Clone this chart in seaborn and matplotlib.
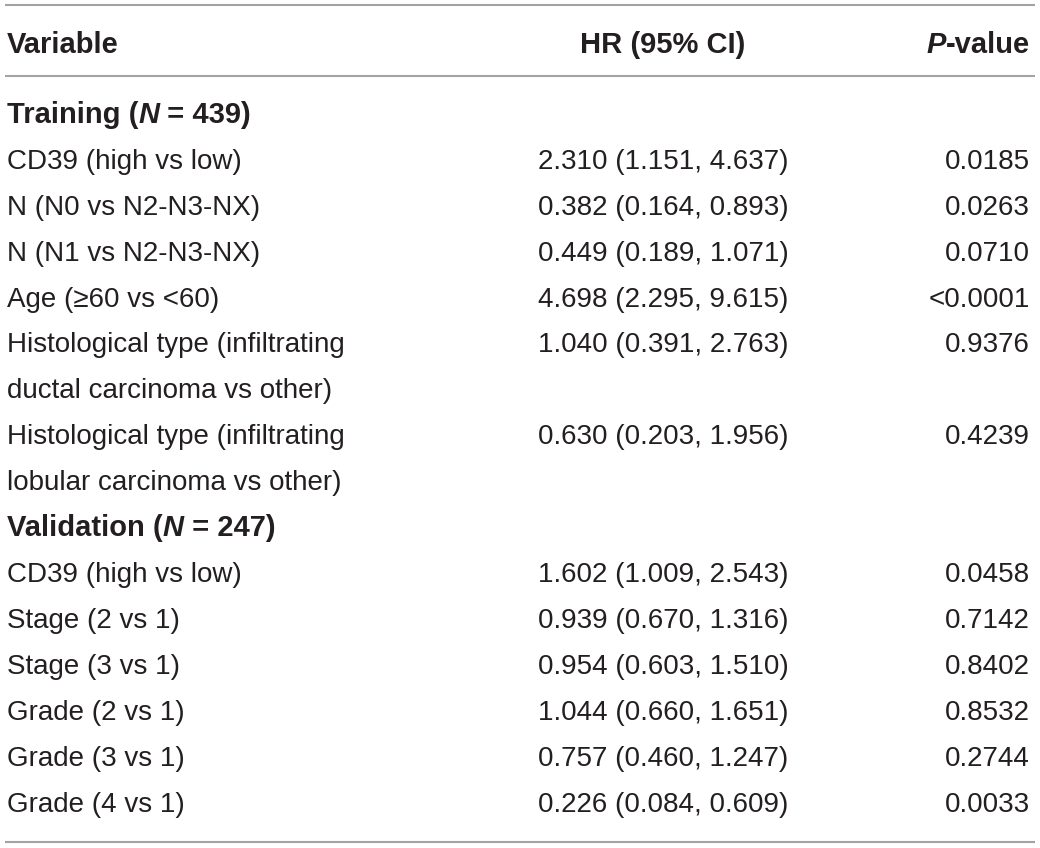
#!/usr/bin/env python3
"""
Cox regression table (training / validation) redrawn as a figure
"""

import matplotlib
matplotlib.use("Agg")
import matplotlib.pyplot as plt
from matplotlib import font_manager
import seaborn as sns

# Table content
HEADERS = ["Variable", "HR (95% CI)", "P-value"]

TRAIN_TITLE = ("Training (", "N", " = 439)")
TRAIN_VARS = [
    "CD39 (high vs low)",
    "N (N0 vs N2-N3-NX)",
    "N (N1 vs N2-N3-NX)",
    "Age (\u226560 vs <60)",
    "Histological type (infiltrating\nductal carcinoma vs other)",
    "Histological type (infiltrating\nlobular carcinoma vs other)",
]
TRAIN_HR = [
    "2.310 (1.151, 4.637)",
    "0.382 (0.164, 0.893)",
    "0.449 (0.189, 1.071)",
    "4.698 (2.295, 9.615)",
    "1.040 (0.391, 2.763)",
    "0.630 (0.203, 1.956)",
]
TRAIN_P = ["0.0185", "0.0263", "0.0710", "<0.0001", "0.9376", "0.4239"]

VALID_TITLE = ("Validation (", "N", " = 247)")
VALID_VARS = [
    "CD39 (high vs low)",
    "Stage (2 vs 1)",
    "Stage (3 vs 1)",
    "Grade (2 vs 1)",
    "Grade (3 vs 1)",
    "Grade (4 vs 1)",
]
VALID_HR = [
    "1.602 (1.009, 2.543)",
    "0.939 (0.670, 1.316)",
    "0.954 (0.603, 1.510)",
    "1.044 (0.660, 1.651)",
    "0.757 (0.460, 1.247)",
    "0.226 (0.084, 0.609)",
]
VALID_P = ["0.0458", "0.7142", "0.8402", "0.8532", "0.2744", "0.0033"]

# Layout (pixels)
W, H = 1040, 848
X_VAR, X_HR, X_P = 7, 663, 1030
LINE_STEP = 45.9
FIRST_LINE = 112
HEADER_Y = 42
CAP_HALF = 11
TEXT_COLOR = "#231f20"
RULE_COLOR = "#a3a3a3"

sns.set_theme(style="white")
available = {f.name for f in font_manager.fontManager.ttflist}
if "Liberation Sans Narrow" in available:
    FAMILY, SIZE, BSIZE = "Liberation Sans Narrow", 24, 25
else:
    FAMILY, SIZE, BSIZE = "Liberation Sans", 20, 21
plt.rcParams["font.family"] = [FAMILY, "DejaVu Sans"]


def rich_text(ax, x, y, parts, ha="left"):
    """Draw text pieces with mixed styles on one baseline"""
    if ha == "left":
        prev = ax.text(x, y, parts[0][0], ha="left", va="baseline",
                       color=TEXT_COLOR, fontsize=BSIZE, **parts[0][1])
        for txt, style in parts[1:]:
            prev = ax.annotate(txt, xy=(1, 0), xycoords=prev, ha="left", va="bottom",
                               color=TEXT_COLOR, fontsize=BSIZE, **style)
    else:
        prev = ax.text(x, y, parts[-1][0], ha="right", va="baseline",
                       color=TEXT_COLOR, fontsize=BSIZE, **parts[-1][1])
        for txt, style in reversed(parts[:-1]):
            prev = ax.annotate(txt, xy=(0, 0), xycoords=prev, ha="right", va="bottom",
                               color=TEXT_COLOR, fontsize=BSIZE, **style)


def cell(ax, x, y, txt, ha="left"):
    ax.text(x, y, txt, ha=ha, va="baseline", color=TEXT_COLOR, fontsize=SIZE)


fig = plt.figure(figsize=(W / 100, H / 100), dpi=100)
ax = fig.add_axes([0, 0, 1, 1])
ax.set_xlim(0, W)
ax.set_ylim(H, 0)
ax.axis("off")

bold = {"fontweight": "bold"}
bold_it = {"fontweight": "bold", "fontstyle": "italic"}

# Header
hy = HEADER_Y + CAP_HALF
ax.text(X_VAR, hy, HEADERS[0], ha="left", va="baseline", color=TEXT_COLOR,
        fontsize=BSIZE, **bold)
ax.text(X_HR, hy, HEADERS[1], ha="center", va="baseline", color=TEXT_COLOR,
        fontsize=BSIZE, **bold)
rich_text(ax, X_P, hy, [(HEADERS[2][0], bold_it), (HEADERS[2][1:], bold)], ha="right")

# Body
line = 0
for title, names, hrs, ps in [(TRAIN_TITLE, TRAIN_VARS, TRAIN_HR, TRAIN_P),
                              (VALID_TITLE, VALID_VARS, VALID_HR, VALID_P)]:
    y = FIRST_LINE + line * LINE_STEP + CAP_HALF
    rich_text(ax, X_VAR, y, [(title[0], bold), (title[1], bold_it), (title[2], bold)])
    line += 1
    for name, hr, p in zip(names, hrs, ps):
        y = FIRST_LINE + line * LINE_STEP + CAP_HALF
        cell(ax, X_HR, y, hr, ha="center")
        cell(ax, X_P, y, p, ha="right")
        for k, part in enumerate(name.split("\n")):
            cell(ax, X_VAR, y + k * LINE_STEP, part)
        line += len(name.split("\n"))

# Rules
ax.hlines([5, 76, 842], 5, 1035, color=RULE_COLOR, lw=1.5)

fig.savefig("out.png", dpi=100)
plt.close(fig)
